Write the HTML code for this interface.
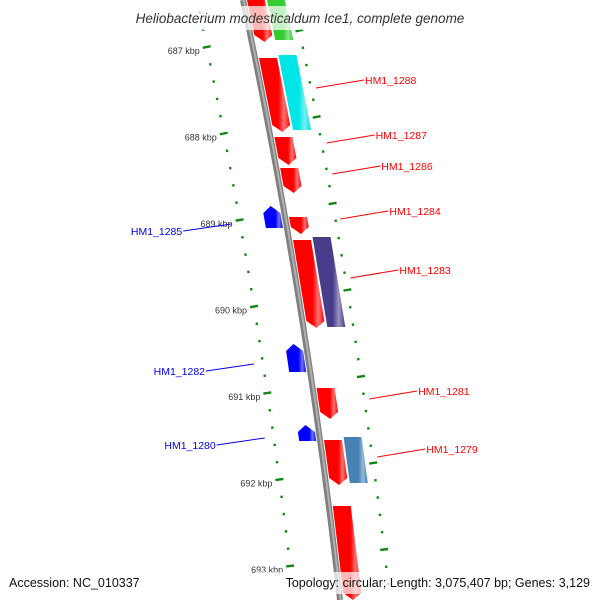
<!DOCTYPE html>
<html><head><meta charset="utf-8"><style>
html,body{margin:0;background:#fff;overflow:hidden;width:600px;height:600px}
svg{display:block;font-family:"Liberation Sans",sans-serif;overflow:hidden}
</style></head><body>
<svg id="c" width="600" height="600" viewBox="0 0 600 600">
<defs>
<clipPath id="frame"><rect x="0" y="0" width="600" height="600"/></clipPath>
</defs>
<g clip-path="url(#frame)">
<g id="backbone"></g>
<g id="ticks"></g>
<g id="genes"></g>
<g id="labels"></g>
</g>
<rect x="108" y="6" width="384" height="24" fill="#fff" opacity="0.72"/>
<text x="300" y="23" text-anchor="middle" font-size="13.5" font-style="italic" fill="#333">Heliobacterium modesticaldum Ice1, complete genome</text>
<rect x="255" y="572" width="340" height="22" fill="#fff" opacity="0.72"/>
<text x="9" y="587" font-size="12.5" fill="#111">Accession: NC_010337</text>
<text x="590" y="587" text-anchor="end" font-size="12.5" fill="#111">Topology: circular; Length: 3,075,407 bp; Genes: 3,129</text>
</svg>
<script>
const geneStart=[686.457,686.457,687.127,687.092,688.04,688.399,688.965,689.231,689.197,690.942,691.543,691.509,692.306,688.838,690.434,691.37];
const geneEnd=[686.942,686.919,687.983,687.96,688.364,688.688,689.162,690.249,690.237,691.30,692.064,692.04,693.393,689.092,690.757,691.555];
const geneStrand=[1,0,1,0,1,1,1,1,0,1,1,0,1,-1,-1,-1];
const geneLane=[1,2,1,2,1,1,1,1,2,1,1,2,1,-1,-1,-1];
const geneColor=["#ff0000","#33cc33","#ff0000","#00e5e5","#ff0000","#ff0000","#ff0000","#ff0000","#483d8b","#ff0000","#ff0000","#4682b4","#ff0000","#0000ff","#0000ff","#0000ff"];
const labelPos=[687.474,688.11,688.468,688.988,689.67,691.069,691.74,689.046,690.665,691.52];
const labelText=["HM1_1288","HM1_1287","HM1_1286","HM1_1284","HM1_1283","HM1_1281","HM1_1279","HM1_1285","HM1_1282","HM1_1280"];
const labelSide=[1,1,1,1,1,1,1,-1,-1,-1];
const tickMajor=[686,687,688,689,690,691,692,693];
const tickLabels=["686 kbp","687 kbp","688 kbp","689 kbp","690 kbp","691 kbp","692 kbp","693 kbp"];

const NS="http://www.w3.org/2000/svg";
const yS=k=>47+(k-687)*86.5;
const bb=y=>243+0.2117*y-8.33e-5*y*y;
const slope=y=>0.2117-2*8.33e-5*y;
const P=(y,off)=>[bb(y)+off,y];
function mk(tag,attrs,parent){const e=document.createElementNS(NS,tag);for(const k in attrs)e.setAttribute(k,attrs[k]);parent.appendChild(e);return e;}

const bg=document.getElementById('backbone');
let d="";for(let y=0;y<=600;y+=10){d+=(y==0?"M":"L")+bb(y).toFixed(1)+" "+y;}
let p=mk('path',{d:d,stroke:'#808080',"stroke-width":6,fill:'none'},bg);

p=mk('path',{d:d,stroke:'#b0b0b0',"stroke-width":2,fill:'none',transform:'translate(0.7,0)'},bg);


const tg=document.getElementById('ticks');
function tick(k,off,major){const y=yS(k);if(y<-5||y>600)return;const [x]=P(y,off);const s=slope(y);const len=major?4:1.2;
 const n=Math.hypot(1,s);const ux=1/n,uy=-s/n;
 const l=mk('line',{x1:x-ux*len,y1:y-uy*len,x2:x+ux*len,y2:y+uy*len,stroke:'#118811',"stroke-width":2.4},tg);
 }
tickMajor.forEach((k,i)=>{
 for(let j=0;j<5;j++){tick(k+j*0.2,-46,j==0);tick(k+0.809+j*0.2,50,j==0);}
 const y=yS(k);if(y<0||y>595)return;const [x]=P(y,-46);
 const t=mk('text',{x:x-7,y:y+7,"text-anchor":"end","font-size":"9",fill:'#333'},tg);
 t.textContent=tickLabels[i];
 
});

const gg=document.getElementById('genes');
const defs=document.querySelector('defs');
geneStart.forEach((s,i)=>{
 const y1=Math.max(yS(s),-5),y2=Math.min(yS(geneEnd[i]),605);const lane=geneLane[i];
 let o1,o2; if(lane==1){o1=4;o2=22}else if(lane==2){o1=24;o2=42}else{o1=-21;o2=-4}
 const om=(o1+o2)/2;const ah=7;let pts;
 if(geneStrand[i]==1) pts=[P(y1,o1),P(y1,o2),P(y2-ah,o2),P(y2,om),P(y2-ah,o1)];
 else if(geneStrand[i]==-1) pts=[P(y1,om),P(y1+ah,o2),P(y2,o2),P(y2,o1),P(y1+ah,o1)];
 else pts=[P(y1,o1),P(y1,o2),P(y2,o2),P(y2,o1)];
 const gid='g'+i;
 const lg=mk('linearGradient',{id:gid,x1:0,x2:1,y1:0,y2:0},defs);
 mk('stop',{offset:0,"stop-color":geneColor[i]},lg);
 mk('stop',{offset:0.62,"stop-color":geneColor[i]},lg);
 mk('stop',{offset:0.8,"stop-color":geneColor[i],"stop-opacity":0.55},lg);
 mk('stop',{offset:1,"stop-color":geneColor[i]},lg);
 const pg=mk('polygon',{points:pts.map(q=>q[0].toFixed(1)+","+q[1].toFixed(1)).join(" "),fill:'url(#'+gid+')'},gg);
 
});

const lgp=document.getElementById('labels');
labelPos.forEach((k,i)=>{
 const y=yS(k);const side=labelSide[i];const col=side==1?'#ff0000':'#0000ee';
 const [x]=P(y,side*55);const x2=x+side*48,y2=side==1?y-8:y+7;
 const l=mk('line',{x1:x,y1:y,x2:x2,y2:y2,stroke:col,"stroke-width":1},lgp);
 
 const t=mk('text',{x:x2+side*1,y:y2+4,"text-anchor":side==1?'start':'end',"font-size":"10.5",fill:col},lgp);
 t.textContent=labelText[i];
 
});
</script>
</body></html>
